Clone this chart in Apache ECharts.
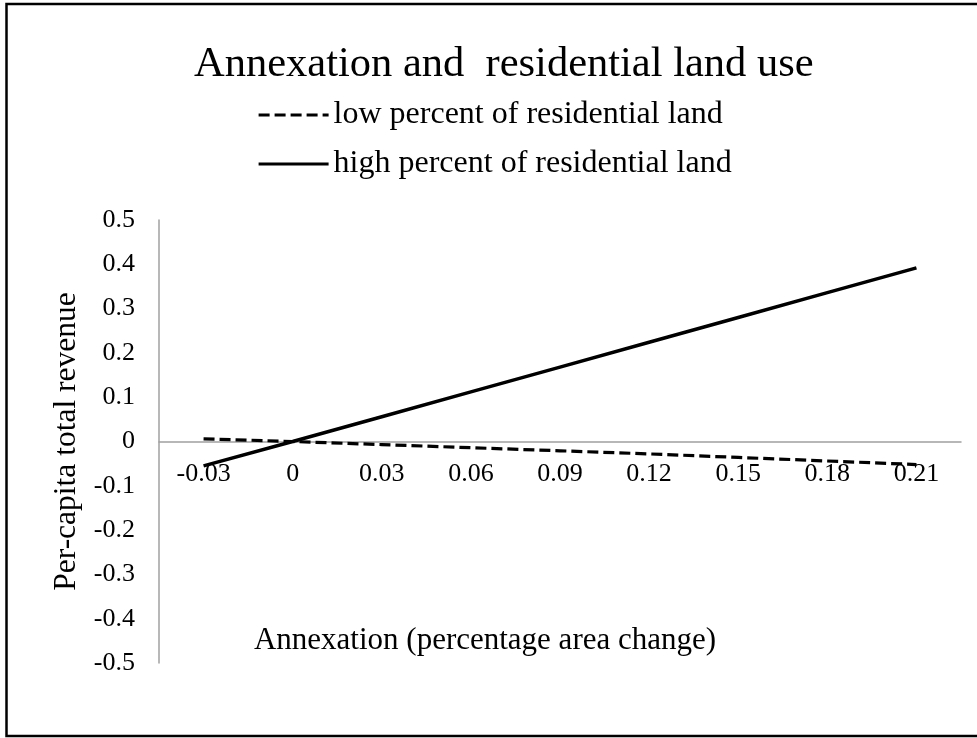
<!DOCTYPE html>
<html>
<head>
<meta charset="utf-8">
<script src="https://cdn.jsdelivr.net/npm/echarts@6/dist/echarts.min.js"></script>
<style>
html,body{margin:0;padding:0;background:#fff;}
#chart{width:977px;height:738px;}
</style>
</head>
<body>
<div id="chart"></div>
<script>
var categories = ['-0.03', '0', '0.03', '0.06', '0.09', '0.12', '0.15', '0.18', '0.21'];
var lowResidential = [0.006, 0, -0.007, -0.014, -0.021, -0.028, -0.036, -0.044, -0.052];
var highResidential = [-0.055, 0, 0.056, 0.112, 0.168, 0.224, 0.28, 0.336, 0.392];
var seriesNames = ['low percent of residential land', 'high percent of residential land'];
var titleText = 'Annexation and  residential land use';
var xAxisName = 'Annexation (percentage area change)';
var yAxisName = 'Per-capita total revenue';

var FONT = 'Liberation Serif';
var GRID_TOP = 220, GRID_BOTTOM = 75, CHART_H = 738;
// the category axis sits at y = 0, which is the middle of the symmetric -0.5..0.5 range
var plotH = CHART_H - GRID_TOP - GRID_BOTTOM;
var chart = echarts.init(document.getElementById('chart'), null, {renderer: 'canvas'});
chart.setOption({
  backgroundColor: '#fff',
  animation: false,
  title: {
    text: titleText,
    left: 194,
    top: 43,
    padding: 0,
    textStyle: {fontFamily: FONT, fontSize: 42.5, fontWeight: 'normal', color: '#000'}
  },
  legend: {
    orient: 'vertical',
    left: 257,
    top: 99,
    padding: 0,
    itemWidth: 70,
    itemHeight: 14,
    itemGap: 17,
    data: seriesNames,
    itemStyle: {opacity: 0},
    lineStyle: {width: 3.2},
    textStyle: {fontFamily: FONT, fontSize: 32, lineHeight: 31, color: '#000'}
  },
  grid: {left: 159, right: 16, top: GRID_TOP, bottom: GRID_BOTTOM, containLabel: false, outerBoundsMode: 'none'},
  xAxis: {
    type: 'category',
    data: categories,
    boundaryGap: true,
    position: 'bottom',
    offset: -plotH / 2,
    axisLine: {onZero: false, lineStyle: {color: '#a0a0a0', width: 1.5}},
    axisTick: {show: false},
    axisLabel: {fontFamily: FONT, fontSize: 26, color: '#000', margin: 20},
    name: xAxisName,
    nameLocation: 'middle',
    nameGap: 184,
    nameTextStyle: {fontFamily: FONT, fontSize: 31, color: '#000', padding: [0, 150, 0, 0]},
    splitLine: {show: false}
  },
  yAxis: {
    type: 'value',
    min: -0.5,
    max: 0.5,
    interval: 0.1,
    axisLine: {show: true, lineStyle: {color: '#a0a0a0', width: 1.5}},
    axisTick: {show: false},
    splitLine: {show: false},
    axisLabel: {
      fontFamily: FONT, fontSize: 26, color: '#000', margin: 24,
      formatter: function (v) { return String(Math.round(v * 10) / 10); }
    },
    name: yAxisName,
    nameLocation: 'middle',
    nameGap: 74,
    nameTextStyle: {fontFamily: FONT, fontSize: 31.5, color: '#000'}
  },
  series: [
    {
      name: seriesNames[0],
      type: 'line',
      data: lowResidential,
      symbol: 'none',
      lineStyle: {color: '#000', width: 3.2, type: [11, 5]},
      itemStyle: {color: '#000'}
    },
    {
      name: seriesNames[1],
      type: 'line',
      data: highResidential,
      symbol: 'none',
      lineStyle: {color: '#000', width: 3.5},
      itemStyle: {color: '#000'}
    }
  ],
  graphic: [
    {
      type: 'rect',
      silent: true,
      shape: {x: 6.5, y: 4, width: 990, height: 732},
      style: {fill: 'none', stroke: '#000', lineWidth: 2.5}
    }
  ]
});
</script>
</body>
</html>
